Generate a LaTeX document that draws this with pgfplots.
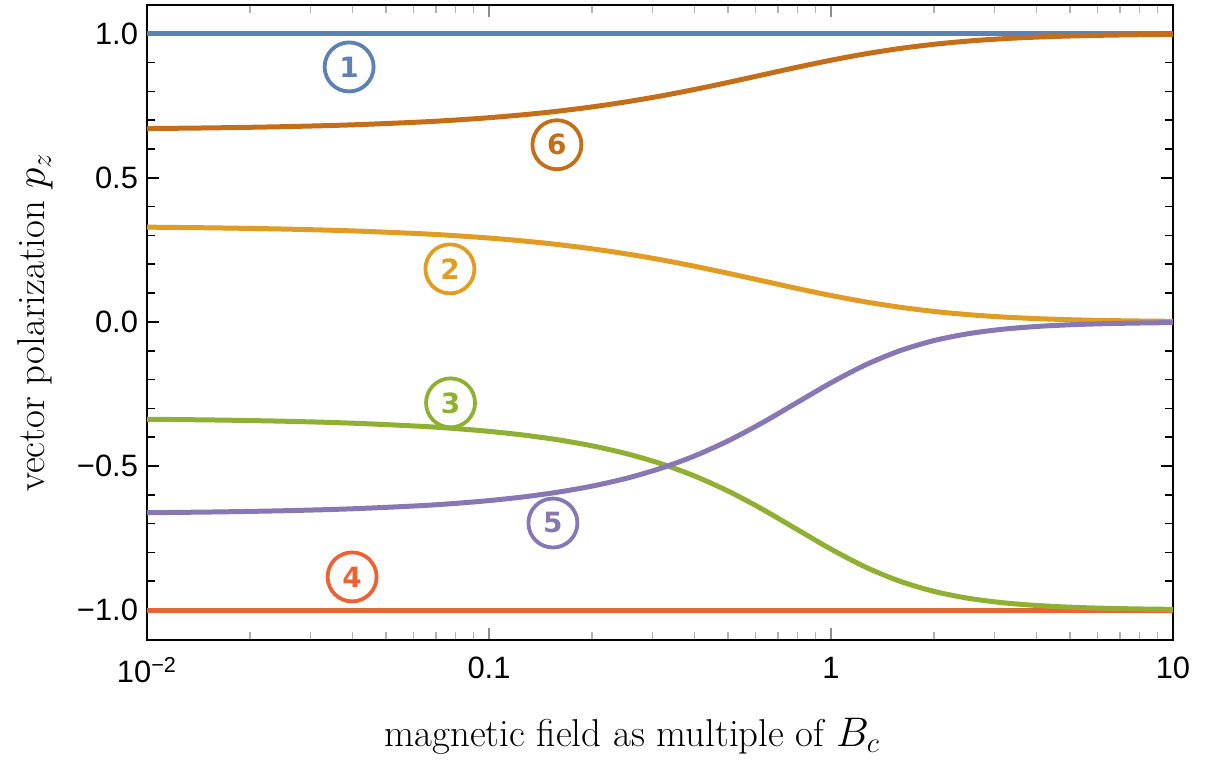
\documentclass[border=0pt]{standalone}
\usepackage{fontspec}
\usepackage{pgfplots}
\usepackage{pgfplotstable}
\pgfplotsset{compat=1.18}
\newfontfamily\arial{Liberation Sans}
\newfontfamily\circfont{DejaVu Sans}
\definecolor{cA}{HTML}{5E81B5}
\definecolor{cB}{HTML}{E19C24}
\definecolor{cC}{HTML}{8FB032}
\definecolor{cD}{HTML}{EB6235}
\definecolor{cE}{HTML}{8778B3}
\definecolor{cF}{HTML}{C56E1A}

\pgfplotstableread{
x        p6        p2        p3         p5
0.01     0.671097  0.328903  -0.337800  -0.662200
0.015849 0.673655  0.326345  -0.340433  -0.659567
0.025119 0.677689  0.322311  -0.344636  -0.655364
0.039811 0.684002  0.315998  -0.351373  -0.648628
0.063096 0.693803  0.306197  -0.362233  -0.637767
0.079433 0.700527  0.299473  -0.369982  -0.630019
0.1      0.708810  0.291190  -0.379880  -0.620120
0.125893 0.718950  0.281050  -0.392558  -0.607442
0.158489 0.731254  0.268746  -0.408830  -0.591171
0.199526 0.746017  0.253984  -0.429742  -0.570258
0.251189 0.763464  0.236537  -0.456601  -0.543399
0.316228 0.783674  0.216327  -0.490930  -0.509070
0.398107 0.806486  0.193515  -0.534271  -0.465729
0.501187 0.831398  0.168603  -0.587640  -0.412360
0.630957 0.857513  0.142488  -0.650518  -0.349483
0.794328 0.883594  0.116406  -0.719631  -0.280370
1        0.908248  0.091752  -0.788675  -0.211325
1.258925 0.930235  0.069766  -0.850281  -0.149720
1.584893 0.948729  0.051271  -0.899365  -0.100635
1.995262 0.963454  0.036547  -0.934891  -0.065109
2.511886 0.974621  0.025380  -0.958873  -0.041128
3.162278 0.982750  0.017251  -0.974350  -0.025650
3.981072 0.988473  0.011528  -0.984092  -0.015908
5.011872 0.992399  0.007601  -0.990147  -0.009854
6.309573 0.995039  0.004961  -0.993892  -0.006108
7.943282 0.996787  0.003213  -0.996207  -0.003794
10       0.997932  0.002068  -0.997639  -0.002362
}\curves

\begin{document}
\begin{tikzpicture}
\useasboundingbox (0,0) rectangle (611bp,381.5bp);
\begin{axis}[
  at={(73.5bp,61.5bp)}, anchor=south west,
  width=513bp, height=317.5bp, scale only axis,
  xmode=log, xmin=0.01, xmax=10, ymin=-1.104, ymax=1.10,
  axis line style={line width=0.9bp, black},
  tick align=inside,
  xtick={0.01,0.1,1,10},
  xticklabels={{10\textsuperscript{−2}},0.1,1,10},
  ytick={-1,-0.5,0,0.5,1},
  yticklabels={−1.0,−0.5,0.0,0.5,1.0},
  minor ytick={-0.9,-0.8,-0.7,-0.6,-0.4,-0.3,-0.2,-0.1,0.1,0.2,0.3,0.4,0.6,0.7,0.8,0.9},
  major tick length=6bp, minor tick length=4bp,
  y tick style={line width=0.8bp, black},
  minor y tick style={line width=0.8bp, black},
  major x tick style={line width=0.6bp, black!45},
  minor x tick style={line width=0.6bp, black!30},
  x tick label style={font=\arial\fontsize{15.5}{17}\selectfont, yshift=-5bp},
  y tick label style={font=\arial\fontsize{15.5}{17}\selectfont, xshift=-1bp},
  xlabel={magnetic field as multiple of $B_c$},
  ylabel={vector polarization $p_z$},
  label style={font=\fontsize{19.5}{22}\selectfont},
  xlabel style={at={(axis description cs:0.473,-0.152)}, anchor=center},
  ylabel style={at={(axis description cs:-0.109,0.5)}, anchor=center},
  clip=true,
]
\addplot[cA, line width=2.5bp] coordinates {(0.01,1) (10,1)};
\addplot[cD, line width=2.5bp] coordinates {(0.01,-1) (10,-1)};
\addplot[cF, line width=2.5bp, smooth] table[x=x,y=p6] {\curves};
\addplot[cB, line width=2.5bp, smooth] table[x=x,y=p2] {\curves};
\addplot[cC, line width=2.5bp, smooth] table[x=x,y=p3] {\curves};
\addplot[cE, line width=2.5bp, smooth] table[x=x,y=p5] {\curves};
\tikzset{circ/.style={draw=#1, text=#1, circle, line width=1.9bp, minimum size=24.5bp, inner sep=0pt, font=\circfont\bfseries\fontsize{14}{14}\selectfont}}
\node[circ=cA] at (axis cs:0.039,0.885) {1};
\node[circ=cF] at (axis cs:0.158,0.615) {6};
\node[circ=cB] at (axis cs:0.0769,0.184) {2};
\node[circ=cC] at (axis cs:0.0772,-0.281) {3};
\node[circ=cE] at (axis cs:0.1538,-0.698) {5};
\node[circ=cD] at (axis cs:0.0398,-0.885) {4};
\end{axis}
\end{tikzpicture}
\end{document}
